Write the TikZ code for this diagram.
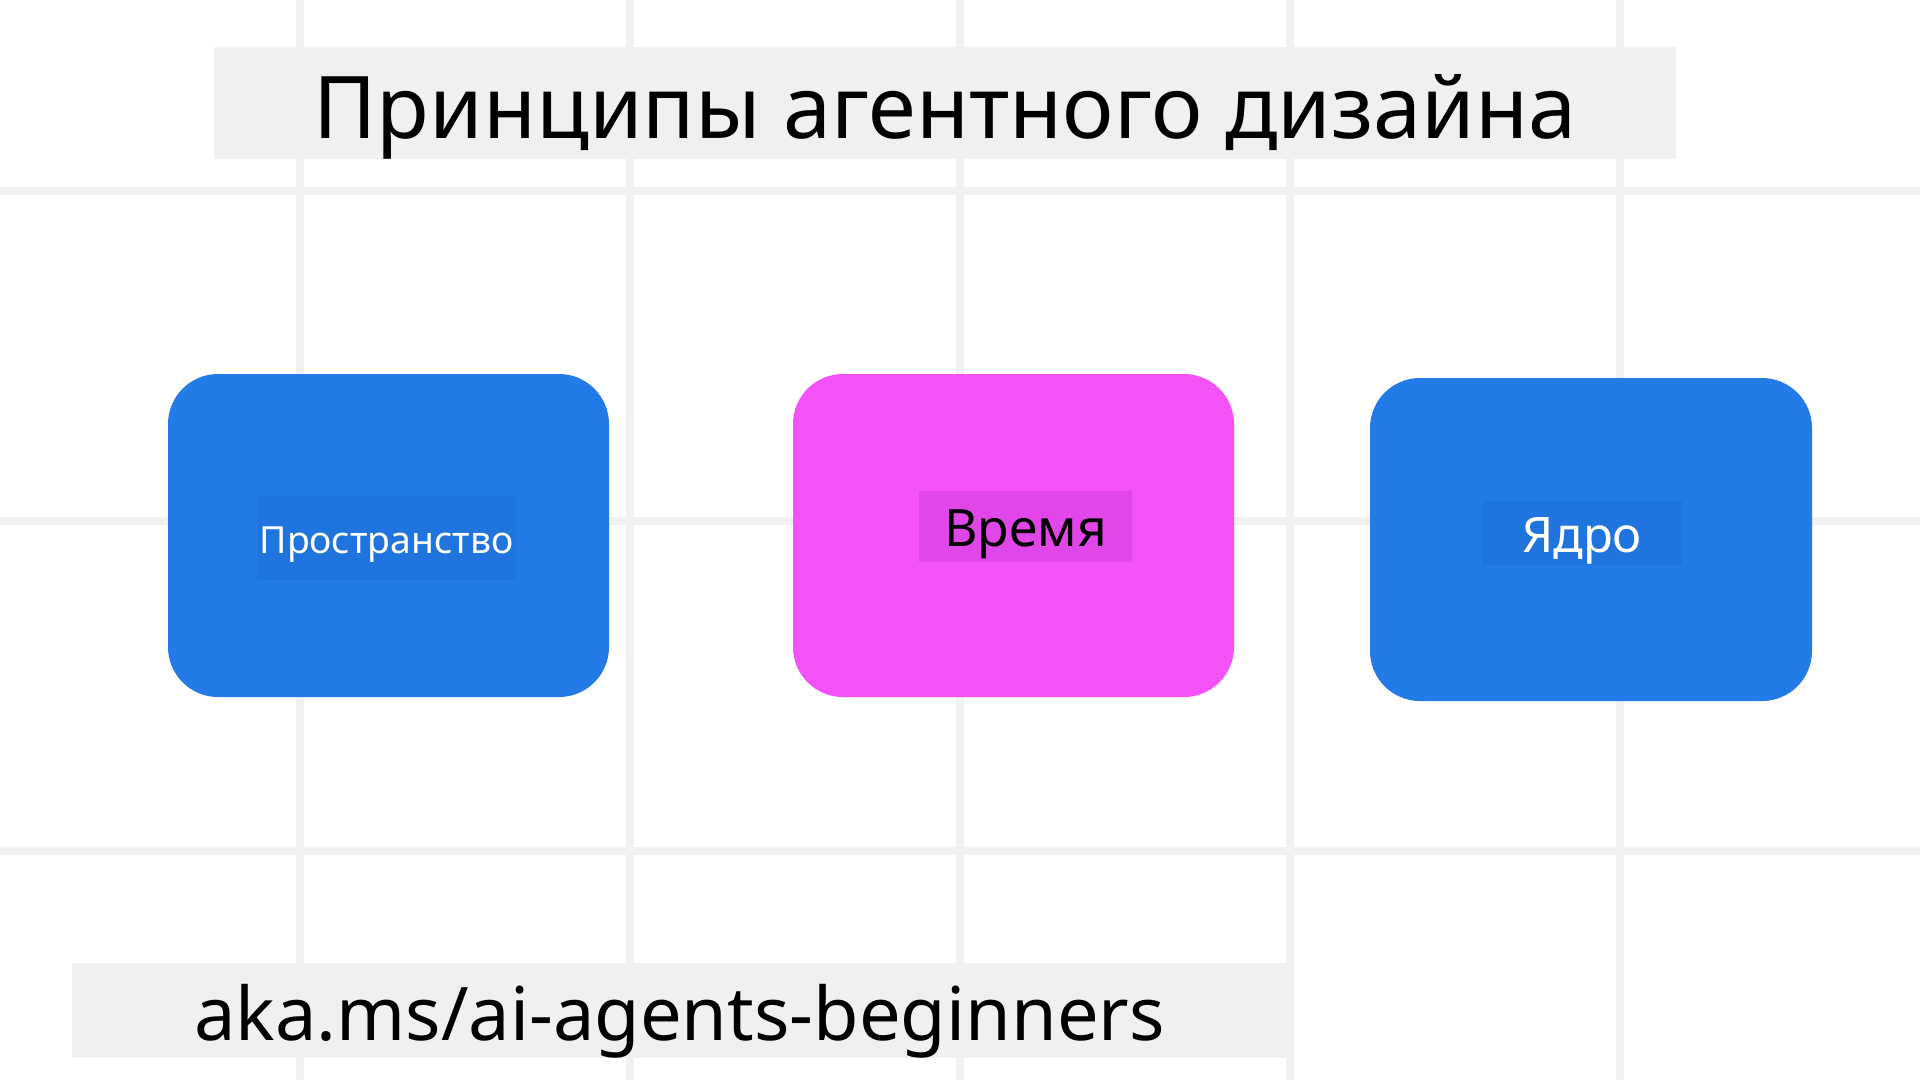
\documentclass[tikz,border=0pt]{standalone}
\usepackage{fontspec}
\setmainfont{Noto Sans}
\definecolor{gridc}{RGB}{241,241,241}
\definecolor{titlebg}{RGB}{240,240,239}
\definecolor{urlbg}{RGB}{240,240,240}
\definecolor{boxblue}{RGB}{34,123,231}
\definecolor{lblblue}{RGB}{32,116,222}
\definecolor{boxpink}{RGB}{242,82,248}
\definecolor{lblpink}{RGB}{224,70,232}
\tikzset{
  gridline/.style={draw=gridc, line width=8.5pt},
  panel/.style={rectangle, rounded corners=50pt, minimum width=441pt, minimum height=323pt, inner sep=0pt},
  lbl/.style={rectangle, inner sep=0pt, text depth=0pt},
  banner/.style={rectangle, inner sep=0pt, text depth=0pt, text=black},
}
\begin{document}
\begin{tikzpicture}[x=1pt,y=-1pt]
\useasboundingbox (0,0) rectangle (1920,1080);
\fill[white] (0,0) rectangle (1920,1080);
% grid
\foreach \gx in {300,630,960,1290,1620} \draw[gridline] (\gx,0) -- (\gx,1080);
\foreach \gy in {191,521,851} \draw[gridline] (0,\gy) -- (1920,\gy);
% title
\node[banner, fill=titlebg, minimum width=1462pt, minimum height=112.5pt, text height=70pt,
      font=\fontsize{86.5}{100}\selectfont] (title) at (945,103) {Принципы агентного дизайна};
% panels
\node[panel, fill=boxblue] (space) at (388.5,535.5) {};
\node[panel, fill=boxpink] (time) at (1013.5,535.5) {};
\node[panel, fill=boxblue, minimum width=442pt] (core) at (1591,539.5) {};
% labels
\node[lbl, fill=lblblue, text=white, minimum width=259pt, minimum height=84pt, text height=30pt,
      font=\fontsize{37.4}{44}\selectfont] (spacelbl) at (386.5,538) {Пространство};
\node[lbl, fill=lblpink, text=black, minimum width=213pt, minimum height=71pt, text height=39pt,
      font=\fontsize{51.5}{60}\selectfont] (timelbl) at (1025.5,526.5) {Время};
\node[lbl, fill=lblblue, text=white, minimum width=200pt, minimum height=64pt, text height=38pt,
      font=\fontsize{49}{56}\selectfont] (corelbl) at (1582,533) {Ядро};
% url
\node[banner, fill=urlbg, minimum width=1215pt, minimum height=95pt, text height=59pt,
      font=\fontsize{74}{84}\selectfont] (url) at (679.5,1010.5) {aka.ms/ai-agents-beginners};
\end{tikzpicture}
\end{document}
